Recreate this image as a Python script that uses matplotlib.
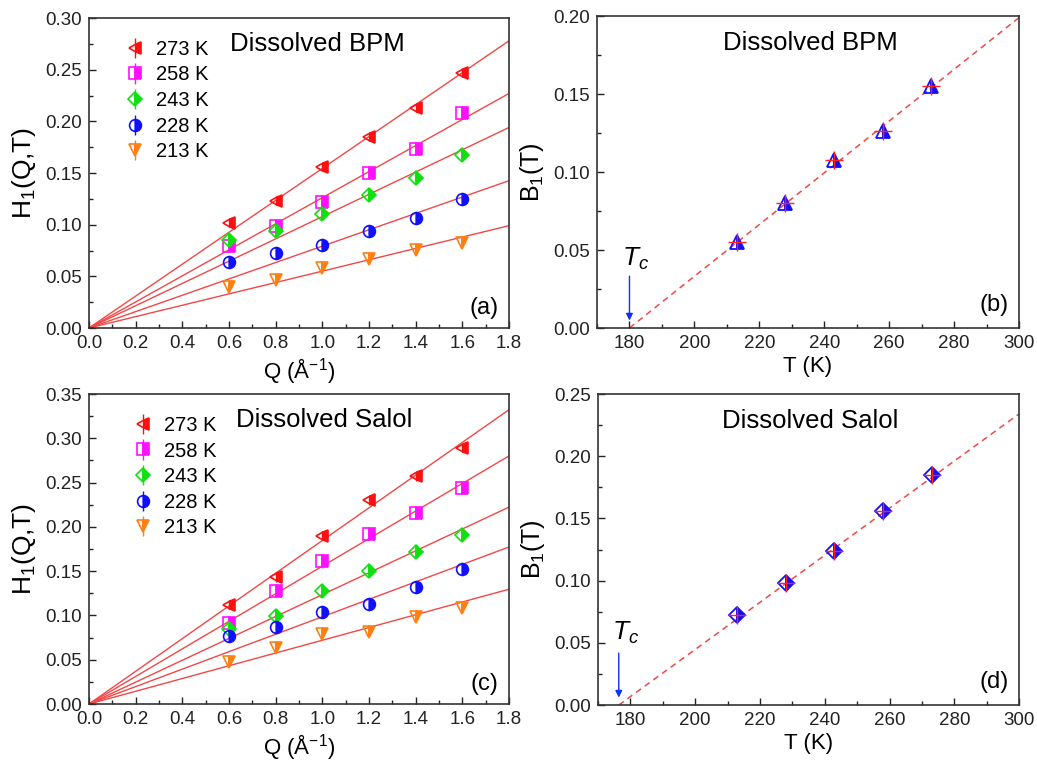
import numpy as np
import matplotlib
matplotlib.use("Agg")
import matplotlib.pyplot as plt
from matplotlib.ticker import MultipleLocator, FormatStrFormatter

plt.rcParams['font.family'] = ['Liberation Sans', 'DejaVu Sans']
plt.rcParams['mathtext.fontset'] = 'custom'
plt.rcParams['mathtext.rm'] = 'Liberation Sans'
plt.rcParams['mathtext.it'] = 'Liberation Sans:italic'

# --- data ---
q = [0.6, 0.8, 1.0, 1.2, 1.4, 1.6]
temps = [273, 258, 243, 228, 213]
labels = ['273 K', '258 K', '243 K', '228 K', '213 K']

h1_bpm = [
    [0.1016, 0.123, 0.156, 0.185, 0.213, 0.247],
    [0.079, 0.099, 0.122, 0.150, 0.173, 0.208],
    [0.085, 0.0935, 0.110, 0.129, 0.145, 0.167],
    [0.0635, 0.0726, 0.0806, 0.0935, 0.106, 0.125],
    [0.040, 0.0468, 0.058, 0.0668, 0.0758, 0.082],
]
slope_bpm = [0.1544, 0.1261, 0.1078, 0.0792, 0.055]

h1_salol = [
    [0.112, 0.143, 0.190, 0.230, 0.257, 0.289],
    [0.092, 0.128, 0.161, 0.192, 0.216, 0.244],
    [0.0844, 0.0995, 0.128, 0.150, 0.172, 0.191],
    [0.077, 0.0867, 0.104, 0.1127, 0.132, 0.153],
    [0.048, 0.0637, 0.0787, 0.0818, 0.098, 0.108],
]
slope_salol = [0.1846, 0.1556, 0.1235, 0.0985, 0.072]

b1_bpm = [0.155, 0.126, 0.108, 0.080, 0.055]
b1_salol = [0.185, 0.156, 0.124, 0.098, 0.072]
tc_bpm = 180.0
tc_salol = 176.4
b1_end_bpm = 0.199     # dashed fit value at T = 300 K
b1_end_salol = 0.234

# error bars (small)
err_bpm = [0.004, 0.004, 0.003, 0.003, 0.003]
err_salol = [0.005, 0.007, 0.004, 0.003, 0.004]

colors = ['#ff1010', '#ff10ff', '#10e010', '#1010ff', '#ff7f10']
markers = ['<', 's', 'D', 'o', 'v']
msizes = [9, 8, 7.5, 8.5, 9]
line_red = '#f04848'

fig = plt.figure(figsize=(10.37, 7.66), dpi=100)
ax_a = fig.add_axes([0.0858, 0.5718, 0.405, 0.4047])
ax_b = fig.add_axes([0.5757, 0.5718, 0.407, 0.4073])
ax_c = fig.add_axes([0.0858, 0.0809, 0.405, 0.4047])
ax_d = fig.add_axes([0.5767, 0.0796, 0.406, 0.406])


def style(ax):
    ax.tick_params(which='both', direction='in', top=False, right=False,
                   labelsize=13.5, width=1.0, colors='#222222', pad=5)
    ax.tick_params(which='major', length=5)
    ax.tick_params(which='minor', length=3)
    for s in ax.spines.values():
        s.set_linewidth(1.2)
        s.set_color('#333333')


def h_panel(ax, data, slopes, errs, ymax, title, tag, title_x, leg_x):
    xfit = np.array([0.0, 1.8])
    for i in range(len(temps)):
        ax.plot(xfit, slopes[i] * xfit, '-', color=line_red, lw=1.0, zorder=1)
    for i in range(len(temps)):
        ax.errorbar(q, data[i], yerr=errs[i], fmt=markers[i], color=colors[i],
                    mec=colors[i], mfc=colors[i], fillstyle='right',
                    markersize=msizes[i], mew=1.2, elinewidth=1.0, capsize=0,
                    label=labels[i], zorder=3)
    ax.set_xlim(0, 1.8)
    ax.set_ylim(0, ymax)
    ax.xaxis.set_major_locator(MultipleLocator(0.2))
    ax.xaxis.set_minor_locator(MultipleLocator(0.1))
    ax.yaxis.set_major_locator(MultipleLocator(0.05))
    ax.yaxis.set_minor_locator(MultipleLocator(0.025))
    ax.xaxis.set_major_formatter(FormatStrFormatter('%.1f'))
    ax.yaxis.set_major_formatter(FormatStrFormatter('%.2f'))
    ax.set_xlabel('Q (Å$^{-1}$)', fontsize=16, labelpad=3)
    ax.set_ylabel('H$_1$(Q,T)', fontsize=19, labelpad=5)
    ax.legend(loc='upper left', bbox_to_anchor=(leg_x, 0.975), frameon=False,
              fontsize=14.5, handletextpad=0.55, labelspacing=0.33,
              borderaxespad=0.3, handlelength=1.0)
    ax.text(title_x, 0.915, title, transform=ax.transAxes, fontsize=18.5,
            ha='center', va='center')
    ax.text(0.975, 0.065, tag, transform=ax.transAxes, fontsize=17,
            ha='right', va='center')
    style(ax)


def b_panel(ax, b1, tc, b1_end, marker, msize, ymax, title, tag, tc_text_y, arrow_top):
    ax.plot([tc, 300], [0, b1_end], '--', color=line_red, lw=1.1,
            dashes=(4, 3), zorder=1)
    ax.plot(temps, b1, linestyle='none', marker=marker, color='#1010ff',
            mec='#1010ff', mfc='#1010ff', fillstyle='right', markersize=msize,
            mew=1.3, zorder=3)
    ax.plot(temps, b1, linestyle='none', marker='+', color='#ff2020',
            markersize=13, mew=1.0, zorder=4)
    ax.set_xlim(170, 300)
    ax.set_ylim(0, ymax)
    ax.xaxis.set_major_locator(MultipleLocator(20))
    ax.xaxis.set_minor_locator(MultipleLocator(10))
    ax.yaxis.set_major_locator(MultipleLocator(0.05))
    ax.yaxis.set_minor_locator(MultipleLocator(0.025))
    ax.yaxis.set_major_formatter(FormatStrFormatter('%.2f'))
    ax.set_xlabel('T (K)', fontsize=16, labelpad=3)
    ax.set_ylabel('B$_1$(T)', fontsize=18, labelpad=5)
    ax.annotate('', xy=(tc, ymax * 0.015), xytext=(tc, arrow_top),
                arrowprops=dict(arrowstyle='-|>', color='#1030ff', lw=1.0,
                                mutation_scale=10))
    ax.text(tc + 2, tc_text_y, '$T_c$', fontsize=19, ha='center', va='center')
    ax.text(0.505, 0.913, title, transform=ax.transAxes, fontsize=18.5,
            ha='center', va='center')
    ax.text(0.975, 0.075, tag, transform=ax.transAxes, fontsize=17,
            ha='right', va='center')
    style(ax)


h_panel(ax_a, h1_bpm, slope_bpm, err_bpm, 0.30, 'Dissolved BPM', '(a)', 0.545, 0.052)
h_panel(ax_c, h1_salol, slope_salol, err_salol, 0.35, 'Dissolved Salol', '(c)', 0.56, 0.07)
b_panel(ax_b, b1_bpm, tc_bpm, b1_end_bpm, '^', 10, 0.20, 'Dissolved BPM', '(b)',
        0.0445, 0.035)
b_panel(ax_d, b1_salol, tc_salol, b1_end_salol, 'D', 8, 0.25, 'Dissolved Salol', '(d)',
        0.058, 0.044)

fig.savefig('out.png', dpi=100)
